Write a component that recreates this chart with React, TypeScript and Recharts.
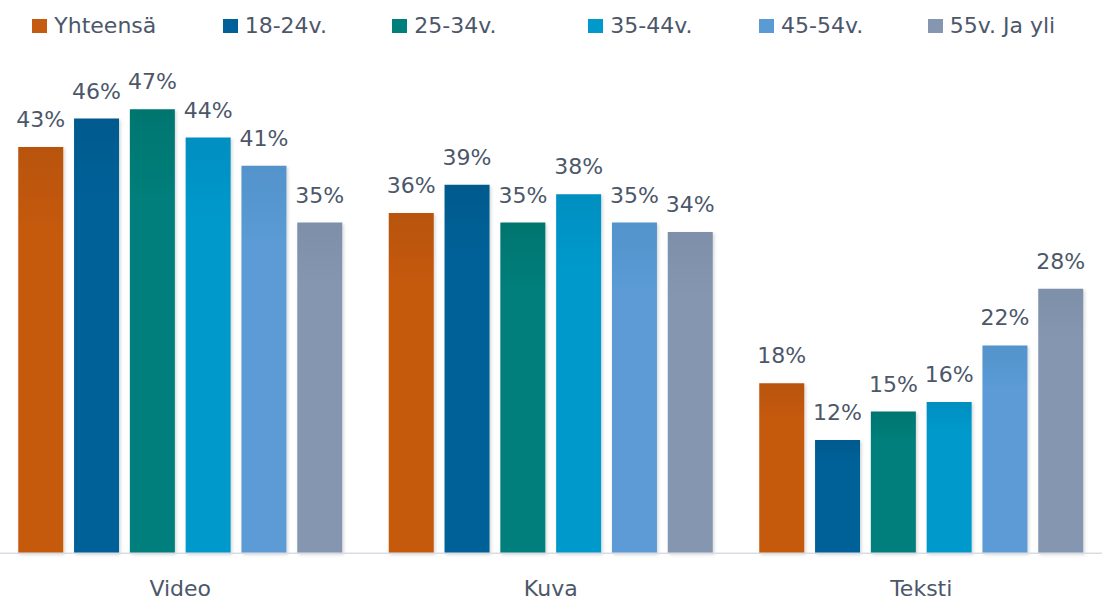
import React from "react";
import { BarChart, Bar, XAxis, YAxis, LabelList, Legend, Rectangle } from "recharts";

// Categories and series values (percent)
const categories = ["Video", "Kuva", "Teksti"];
const seriesNames = ["Yhteensä", "18-24v.", "25-34v.", "35-44v.", "45-54v.", "55v. Ja yli"];
const yhteensa = [43, 36, 18];
const age18to24 = [46, 39, 12];
const age25to34 = [47, 35, 15];
const age35to44 = [44, 38, 16];
const age45to54 = [41, 35, 22];
const age55plus = [35, 34, 28];

const seriesValues = [yhteensa, age18to24, age25to34, age35to44, age45to54, age55plus];
const seriesKeys = ["s0", "s1", "s2", "s3", "s4", "s5"];
const colors = ["#c55a11", "#006198", "#007f7b", "#0099cc", "#5b9bd5", "#8496b0"];
const topColors = ["#b8530e", "#005a8e", "#007570", "#008fc0", "#5393cc", "#7d8fa9"];
// left edge of each legend entry, relative to the legend box (spacing is uneven in the original)
const legendStarts = [0, 190.4, 360, 556, 726.7, 895.4];

const TEXT = "#4c576a";
const FONT = "'DejaVu Sans', sans-serif";

// Build the table Recharts wants
const data = categories.map((cat, i) => {
  const row: any = { name: cat };
  seriesKeys.forEach((k, s) => {
    row[k] = seriesValues[s][i];
  });
  return row;
});

const ShadowBar = (props: any) => <Rectangle {...props} filter="url(#barShadow)" />;

const LegendContent = () => (
  <div style={{ position: "relative", width: 1040, height: 22, fontFamily: FONT, fontSize: 22, lineHeight: "22px", color: TEXT }}>
    {seriesNames.map((n, i) => (
      <div key={n} style={{ position: "absolute", left: legendStarts[i], top: 0, display: "flex", alignItems: "center", height: 22 }}>
        <span style={{ display: "inline-block", width: 15, height: 14, background: colors[i], marginRight: 7 }} />
        <span style={{ whiteSpace: "nowrap" }}>{n}</span>
      </div>
    ))}
  </div>
);

export default function App() {
  return (
    <div style={{ position: "absolute", left: 0, top: 0, width: 1102, height: 601, background: "#fff" }}>
      <BarChart
        width={1102}
        height={601}
        data={data}
        margin={{ top: 80.8, right: -4.5, left: -5, bottom: 0 }}
        barCategoryGap={23.25}
        barGap={10.8}
      >
        <defs>
          {colors.map((c, i) => (
            <linearGradient key={c} id={`grad${i}`} x1="0" y1="0" x2="0" y2="1">
              <stop offset="0%" stopColor={topColors[i]} />
              <stop offset="20%" stopColor={c} />
              <stop offset="100%" stopColor={c} />
            </linearGradient>
          ))}
          <filter id="barShadow" x="-20%" y="-10%" width="140%" height="120%">
            <feDropShadow dx="1.5" dy="1.5" stdDeviation="1.5" floodColor="#000" floodOpacity="0.16" />
          </filter>
        </defs>
        <XAxis
          dataKey="name"
          height={47.7}
          tickLine={false}
          tickSize={0}
          tickMargin={27}
          axisLine={{ stroke: "#d9dde3", strokeWidth: 1.6 }}
          tick={{ fill: TEXT, fontSize: 22, fontFamily: FONT }}
        />
        <YAxis hide domain={[0, 50]} />
        <Legend
          layout="horizontal"
          verticalAlign="middle"
          align="center"
          wrapperStyle={{ top: 14.7, left: 32.3, width: 1040 }}
          content={<LegendContent />}
        />
        {seriesKeys.map((k, i) => (
          <Bar
            key={k}
            dataKey={k}
            name={seriesNames[i]}
            fill={`url(#grad${i})`}
            shape={<ShadowBar />}
            isAnimationActive={false}
          >
            <LabelList
              dataKey={k}
              position="top"
              offset={20}
              formatter={(v: any) => `${v}%`}
              style={{ fill: TEXT, fontSize: 22, fontFamily: FONT }}
            />
          </Bar>
        ))}
      </BarChart>
    </div>
  );
}
